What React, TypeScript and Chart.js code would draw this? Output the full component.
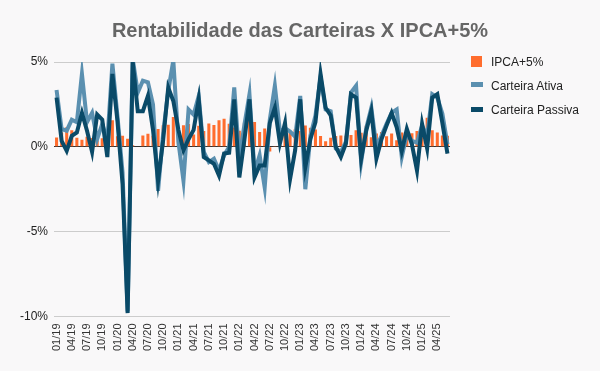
import React, { useEffect, useRef } from 'react';
import { Chart, registerables } from 'chart.js';
Chart.register(...registerables);

const months = [
  '01/19','02/19','03/19','04/19','05/19','06/19','07/19','08/19','09/19','10/19','11/19','12/19',
  '01/20','02/20','03/20','04/20','05/20','06/20','07/20','08/20','09/20','10/20','11/20','12/20',
  '01/21','02/21','03/21','04/21','05/21','06/21','07/21','08/21','09/21','10/21','11/21','12/21',
  '01/22','02/22','03/22','04/22','05/22','06/22','07/22','08/22','09/22','10/22','11/22','12/22',
  '01/23','02/23','03/23','04/23','05/23','06/23','07/23','08/23','09/23','10/23','11/23','12/23',
  '01/24','02/24','03/24','04/24','05/24','06/24','07/24','08/24','09/24','10/24','11/24','12/24',
  '01/25','02/25','03/25','04/25','05/25','06/25',
];

const ipca5 = [
  0.55, 0.84, 1.16, 0.98, 0.54, 0.42, 0.60, 0.52, 0.37, 0.51, 0.92, 1.56,
  0.62, 0.66, 0.48, 0.10, 0.03, 0.67, 0.77, 0.65, 1.05, 1.27, 1.30, 1.76,
  0.66, 1.27, 1.34, 0.72, 1.24, 0.94, 1.37, 1.28, 1.57, 1.66, 1.36, 1.14,
  0.95, 1.42, 2.03, 1.47, 0.88, 1.08, -0.27, 0.05, 0.12, 1.00, 0.82, 1.03,
  0.94, 1.25, 1.12, 1.02, 0.64, 0.33, 0.53, 0.64, 0.67, 0.65, 0.69, 0.97,
  0.83, 1.24, 0.57, 0.79, 0.87, 0.62, 0.79, 0.39, 0.85, 0.97, 0.80, 0.93,
  0.57, 1.72, 0.97, 0.84, 0.67, 0.65,
];

const carteiraAtiva = [
  3.35, 1.05, 0.95, 1.6, 1.45, 4.3, 1.45, 2.0, 0.45, 1.35, 0.35, 4.9,
  1.8, -1.5, -9.7, 5.2, 3.2, 3.9, 3.8, 2.5, -2.6, 0.8, 3.3, 5.1,
  0.3, -2.0, 2.2, 1.9, 3.0, -0.3, -0.9, -0.7, -1.4, -0.5, 0.0, 3.5,
  -0.7, 1.3, 3.1, -1.5, -0.5, -2.4, 1.6, 3.6, 0.9, 1.1, 0.9, 0.6,
  3.0, -2.5, 0.65, 1.85, 4.1, 2.2, 2.1, -0.1, -0.3, 0.3, 3.2, 3.6,
  -0.9, 1.1, 2.3, 0.0, 0.65, 1.35, 2.0, 2.2, -0.6, 0.75, 0.35, 0.25,
  1.25, 0.65, 3.1, 2.9, 1.95, 0.15,
];

const carteiraPassiva = [
  2.9, 0.35, -0.24, 0.65, 0.85, 2.0, 0.95, -0.3, 1.9, 1.6, -0.6, 4.3,
  1.5, -2.2, -9.8, 5.0, 2.1, 2.1, 3.0, 1.0, -2.0, 0.4, 3.5, 2.7,
  1.0, -0.2, 0.45, 1.0, 2.8, -0.6, -0.8, -1.0, -1.7, -0.4, -0.35, 2.8,
  -1.8, 0.4, 2.8, -1.8, -1.1, -1.1, 1.4, 2.3, 0.2, 1.4, -1.9, -0.2,
  2.8, -1.2, 0.45, 1.45, 4.3, 2.3, 1.85, 0.0, -0.6, 0.2, 3.1, 2.9,
  -0.7, 0.95, 2.1, -0.7, 0.45, 1.25, 2.0, 1.15, -0.25, 1.05, 0.15, -1.4,
  1.35, -0.1, 2.9, 3.1, 1.4, -0.4,
];

const yTickValues = [-10, -5, 0, 5];

const ORANGE = '#ff6d2e';
const LIGHT = '#5b90b0';
const DARK = '#0a4a68';
const FAMILY = "'Liberation Sans', Arial, sans-serif";

export default function App() {
  const ref = useRef<HTMLCanvasElement>(null);
  useEffect(() => {
    const chart = new Chart(ref.current as HTMLCanvasElement, {
      type: 'bar',
      data: {
        labels: months,
        datasets: [
          {
            type: 'bar',
            label: 'IPCA+5%',
            data: ipca5,
            backgroundColor: ORANGE,
            categoryPercentage: 1,
            barPercentage: 0.6,
            order: 3,
          } as any,
          {
            type: 'line',
            label: 'Carteira Ativa',
            data: carteiraAtiva,
            borderColor: LIGHT,
            backgroundColor: LIGHT,
            borderWidth: 4,
            pointRadius: 0,
            tension: 0,
            fill: false,
            order: 2,
          } as any,
          {
            type: 'line',
            label: 'Carteira Passiva',
            data: carteiraPassiva,
            borderColor: DARK,
            backgroundColor: DARK,
            borderWidth: 4,
            pointRadius: 0,
            tension: 0,
            fill: false,
            order: 1,
          } as any,
        ],
      },
      options: {
        responsive: false,
        animation: false,
        layout: { padding: { left: 14, right: 150, top: 62, bottom: 13 } },
        plugins: {
          legend: { display: false },
          title: { display: false },
          tooltip: { enabled: false },
        },
        scales: {
          x: {
            grid: { display: false, drawTicks: false },
            border: { display: false },
            ticks: {
              autoSkip: false,
              maxRotation: 90,
              minRotation: 90,
              padding: 7,
              color: '#333',
              font: { size: 11, family: FAMILY },
              callback: (_v: any, i: number) => (i % 3 === 0 ? months[i] : ''),
            },
          },
          y: {
            min: -10,
            max: 5,
            afterBuildTicks: (axis: any) => {
              axis.ticks = yTickValues.map((v) => ({ value: v }));
            },
            grid: {
              drawTicks: false,
              color: (ctx: any) => (ctx.tick && ctx.tick.value === 0 ? '#333' : '#cccccc'),
            },
            border: { display: false },
            ticks: {
              padding: 6,
              color: '#222',
              font: { size: 12, family: FAMILY },
              callback: (v: any) => v + '%',
            },
          },
        },
      } as any,
    });
    return () => chart.destroy();
  }, []);

  const legendText: React.CSSProperties = {
    position: 'absolute',
    left: 491,
    font: `12px ${FAMILY}`,
    lineHeight: '12px',
    color: '#222',
    whiteSpace: 'nowrap',
  };

  return (
    <div style={{ position: 'absolute', left: 0, top: 0, width: 600, height: 371, background: '#f9f8f9', overflow: 'hidden' }}>
      <canvas ref={ref} width={600} height={371} style={{ position: 'absolute', left: 0, top: 0, width: 600, height: 371 }} />
      <div style={{ position: 'absolute', left: 0, top: 20, width: 600, textAlign: 'center', font: `bold 20px ${FAMILY}`, lineHeight: '20px', color: '#666' }}>
        Rentabilidade das Carteiras X IPCA+5%
      </div>
      <div style={{ position: 'absolute', left: 471, top: 56, width: 11, height: 11, background: ORANGE }} />
      <div style={{ ...legendText, top: 56 }}>IPCA+5%</div>
      <div style={{ position: 'absolute', left: 471, top: 82, width: 12, height: 5, background: LIGHT }} />
      <div style={{ ...legendText, top: 80 }}>Carteira Ativa</div>
      <div style={{ position: 'absolute', left: 471, top: 107, width: 12, height: 5, background: DARK }} />
      <div style={{ ...legendText, top: 104 }}>Carteira Passiva</div>
    </div>
  );
}
